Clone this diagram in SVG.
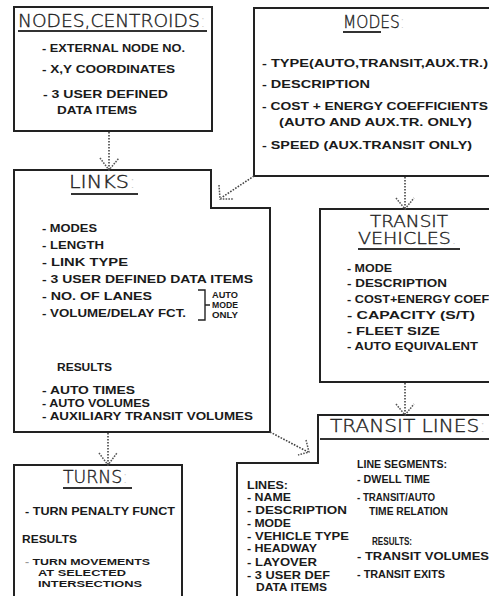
<svg xmlns="http://www.w3.org/2000/svg" width="489" height="596" viewBox="0 0 489 596">
<style>
.box{fill:none;stroke:#222;stroke-width:2}
.ul{stroke:#333;stroke-width:2.2}
.h{font-family:"DejaVu Sans","Liberation Sans",Arial,sans-serif;font-weight:200;font-size:17px;fill:#222;stroke:#222;stroke-width:0.35}
.t{font-family:"Liberation Sans",Arial,sans-serif;font-weight:bold;font-size:11px;fill:#1a1a1a}
.s{font-family:"Liberation Sans",Arial,sans-serif;font-weight:bold;font-size:9px;fill:#1a1a1a}
.faint{fill:#c8c8c8;stroke:none}
.conn{fill:none;stroke:#444;stroke-width:1.6;stroke-dasharray:1.6 1.4}
.head{fill:none;stroke:#555;stroke-width:1.5;stroke-dasharray:1.6 1.2}
</style>
<rect width="489" height="596" fill="#fff"/>

<g id="nodes">
<rect class="box" x="14" y="7" width="198" height="124"/>
<text class="h" x="18" y="27" textLength="188" lengthAdjust="spacingAndGlyphs">NODES,CENTROIDS<tspan class="faint">:</tspan></text>
<line class="ul" x1="18" y1="31" x2="207" y2="31"/>
<text class="t" x="42" y="52" textLength="143" lengthAdjust="spacingAndGlyphs">- EXTERNAL NODE NO.</text>
<text class="t" x="42" y="73" textLength="133" lengthAdjust="spacingAndGlyphs">- X,Y COORDINATES</text>
<text class="t" x="43" y="98" textLength="125" lengthAdjust="spacingAndGlyphs">- 3 USER DEFINED</text>
<text class="t" x="57" y="114" textLength="80" lengthAdjust="spacingAndGlyphs">DATA ITEMS</text>
</g>

<g id="modes">
<path class="box" d="M498 8 H254 V176 H498"/>
<text class="h" x="343" y="28" textLength="62" lengthAdjust="spacingAndGlyphs">MODES<tspan class="faint">:</tspan></text>
<line class="ul" x1="343" y1="32" x2="381" y2="32"/>
<text class="t" x="262" y="67" textLength="226" lengthAdjust="spacingAndGlyphs">- TYPE(AUTO,TRANSIT,AUX.TR.)</text>
<text class="t" x="262" y="88" textLength="108" lengthAdjust="spacingAndGlyphs">- DESCRIPTION</text>
<text class="t" x="262" y="110" textLength="226" lengthAdjust="spacingAndGlyphs">- COST + ENERGY COEFFICIENTS</text>
<text class="t" x="279" y="126" textLength="193" lengthAdjust="spacingAndGlyphs">(AUTO AND AUX.TR. ONLY)</text>
<text class="t" x="262" y="149" textLength="210" lengthAdjust="spacingAndGlyphs">- SPEED (AUX.TRANSIT ONLY)</text>
</g>

<g id="links">
<path class="box" d="M14 170 H211 V208 H270 V432 H14 Z"/>
<text class="h" x="69" y="188" textLength="67" lengthAdjust="spacingAndGlyphs">LINKS<tspan class="faint">:</tspan></text>
<line class="ul" x1="71" y1="194" x2="138" y2="194"/>
<text class="t" x="42" y="232" textLength="55" lengthAdjust="spacingAndGlyphs">- MODES</text>
<text class="t" x="42" y="249" textLength="62" lengthAdjust="spacingAndGlyphs">- LENGTH</text>
<text class="t" x="42" y="266" textLength="86" lengthAdjust="spacingAndGlyphs">- LINK TYPE</text>
<text class="t" x="42" y="283" textLength="211" lengthAdjust="spacingAndGlyphs">- 3 USER DEFINED DATA ITEMS</text>
<text class="t" x="42" y="300" textLength="110" lengthAdjust="spacingAndGlyphs">- NO. OF LANES</text>
<text class="t" x="42" y="317" textLength="144" lengthAdjust="spacingAndGlyphs">- VOLUME/DELAY FCT.</text>
<path fill="none" stroke="#222" stroke-width="1.4" d="M198 290 H205 V320 H198 M205 305 H210"/>
<text class="s" x="212" y="298" textLength="26" lengthAdjust="spacingAndGlyphs">AUTO</text>
<text class="s" x="212" y="308" textLength="26" lengthAdjust="spacingAndGlyphs">MODE</text>
<text class="s" x="212" y="318" textLength="26" lengthAdjust="spacingAndGlyphs">ONLY</text>
<text class="t" x="57" y="371" textLength="55" lengthAdjust="spacingAndGlyphs">RESULTS</text>
<text class="t" x="42" y="394" textLength="93" lengthAdjust="spacingAndGlyphs">- AUTO TIMES</text>
<text class="t" x="42" y="407" textLength="108" lengthAdjust="spacingAndGlyphs">- AUTO VOLUMES</text>
<text class="t" x="42" y="420" textLength="211" lengthAdjust="spacingAndGlyphs">- AUXILIARY TRANSIT VOLUMES</text>
</g>

<g id="transit-vehicles">
<path class="box" d="M498 209 H320 V382 H498"/>
<text class="h" x="370" y="227" textLength="78" lengthAdjust="spacingAndGlyphs" style="font-size:15px">TRANSIT</text>
<text class="h" x="358" y="244" textLength="99" lengthAdjust="spacingAndGlyphs" style="font-size:15px">VEHICLES<tspan class="faint">.</tspan></text>
<line class="ul" x1="358" y1="249" x2="460" y2="249"/>
<text class="t" x="347" y="272" textLength="45" lengthAdjust="spacingAndGlyphs">- MODE</text>
<text class="t" x="347" y="287" textLength="100" lengthAdjust="spacingAndGlyphs">- DESCRIPTION</text>
<text class="t" x="347" y="303" textLength="150" lengthAdjust="spacingAndGlyphs">- COST+ENERGY COEFF</text>
<text class="t" x="347" y="319" textLength="128" lengthAdjust="spacingAndGlyphs">- CAPACITY (S/T)</text>
<text class="t" x="347" y="335" textLength="93" lengthAdjust="spacingAndGlyphs">- FLEET SIZE</text>
<text class="t" x="347" y="350" textLength="131" lengthAdjust="spacingAndGlyphs">- AUTO EQUIVALENT</text>
</g>

<g id="transit-lines">
<path class="box" d="M498 415 H318 V463 H237 V600"/>
<text class="h" x="330" y="432" textLength="156" lengthAdjust="spacingAndGlyphs">TRANSIT LINES<tspan class="faint">:</tspan></text>
<line class="ul" x1="320" y1="439" x2="489" y2="439"/>
<text class="t" x="247" y="489" textLength="41" lengthAdjust="spacingAndGlyphs">LINES:</text>
<text class="t" x="247" y="501" textLength="44" lengthAdjust="spacingAndGlyphs">- NAME</text>
<text class="t" x="247" y="514" textLength="100" lengthAdjust="spacingAndGlyphs">- DESCRIPTION</text>
<text class="t" x="247" y="527" textLength="44" lengthAdjust="spacingAndGlyphs">- MODE</text>
<text class="t" x="247" y="540" textLength="102" lengthAdjust="spacingAndGlyphs" fill="#000">- VEHICLE TYPE</text>
<text class="t" x="247" y="552" textLength="70" lengthAdjust="spacingAndGlyphs">- HEADWAY</text>
<text class="t" x="247" y="566" textLength="70" lengthAdjust="spacingAndGlyphs">- LAYOVER</text>
<text class="t" x="247" y="579" textLength="83" lengthAdjust="spacingAndGlyphs">- 3 USER DEF</text>
<text class="t" x="256" y="591" textLength="71" lengthAdjust="spacingAndGlyphs">DATA ITEMS</text>
<text class="t" x="357" y="468" textLength="90" lengthAdjust="spacingAndGlyphs">LINE SEGMENTS:</text>
<text class="t" x="357" y="483" textLength="73" lengthAdjust="spacingAndGlyphs">- DWELL TIME</text>
<text class="t" x="357" y="501" textLength="78" lengthAdjust="spacingAndGlyphs">- TRANSIT/AUTO</text>
<text class="t" x="369" y="515" textLength="79" lengthAdjust="spacingAndGlyphs">TIME RELATION</text>
<text class="t" x="372" y="545" textLength="40" lengthAdjust="spacingAndGlyphs">RESULTS:</text>
<text class="t" x="357" y="560" textLength="132" lengthAdjust="spacingAndGlyphs">- TRANSIT VOLUMES</text>
<text class="t" x="357" y="578" textLength="88" lengthAdjust="spacingAndGlyphs">- TRANSIT EXITS</text>
</g>

<g id="turns">
<path class="box" d="M14 600 V465 H182 V600"/>
<text class="h" x="63" y="483" textLength="65" lengthAdjust="spacingAndGlyphs">TURNS<tspan class="faint">:</tspan></text>
<line class="ul" x1="63" y1="488" x2="132" y2="488"/>
<text class="t" x="25" y="515" textLength="150" lengthAdjust="spacingAndGlyphs">- TURN PENALTY FUNCT</text>
<text class="t" x="22" y="543" textLength="55" lengthAdjust="spacingAndGlyphs">RESULTS</text>
<text class="t" x="25" y="565" textLength="125" lengthAdjust="spacingAndGlyphs" style="font-size:9.5px"><tspan fill="#999">-</tspan> TURN MOVEMENTS</text>
<text class="t" x="38" y="576" textLength="88" lengthAdjust="spacingAndGlyphs" style="font-size:9.5px">AT SELECTED</text>
<text class="t" x="38" y="587" textLength="104" lengthAdjust="spacingAndGlyphs" style="font-size:9.5px">INTERSECTIONS</text>
</g>

<g id="connectors">
<line class="conn" x1="109" y1="132" x2="109" y2="169"/>
<path class="head" d="M100 158 L109 170 L119 158"/>
<line class="conn" x1="254" y1="176" x2="221" y2="198"/>
<path class="head" d="M219 185 L220 199 L234 199"/>
<line class="conn" x1="405" y1="177" x2="405" y2="208"/>
<path class="head" d="M396 198 L405 209 L414 198"/>
<line class="conn" x1="108" y1="433" x2="108" y2="464"/>
<path class="head" d="M99 453 L108 465 L117 453"/>
<line class="conn" x1="270" y1="432" x2="308" y2="452"/>
<path class="head" d="M306 440 L309 452 L298 455"/>
<line class="conn" x1="405" y1="383" x2="405" y2="414"/>
<path class="head" d="M396 404 L405 415 L414 404"/>
</g>
</svg>
